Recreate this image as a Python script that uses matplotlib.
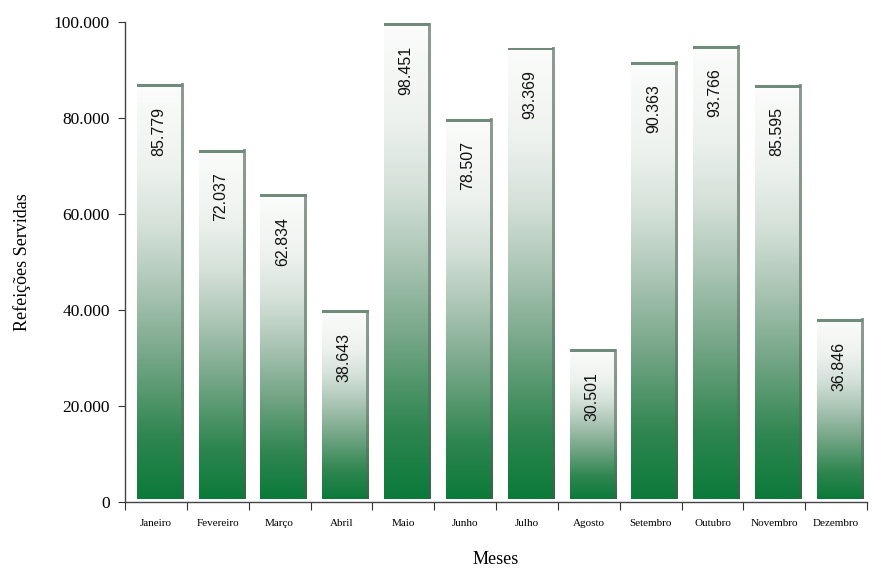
import matplotlib

matplotlib.use("Agg")
import matplotlib.pyplot as plt
import numpy as np
from matplotlib.colors import LinearSegmentedColormap
from matplotlib.ticker import FuncFormatter

meses = ["Janeiro", "Fevereiro", "Março", "Abril", "Maio", "Junho", "Julho",
         "Agosto", "Setembro", "Outubro", "Novembro", "Dezembro"]
refeicoes = [85779, 72037, 62834, 38643, 98451, 78507, 93369,
             30501, 90363, 93766, 85595, 36846]
yticks = [0, 20000, 40000, 60000, 80000, 100000]

SERIF = "Liberation Serif"
SANS = "Liberation Sans"

# Excel-style 3D look: body gradient, top cap, right side face
body_cmap = LinearSegmentedColormap.from_list(
    "body", [(0.0, "#0b7a3a"), (0.15, "#2f8650"), (0.35, "#79a88a"),
             (0.5, "#a9c4b3"), (0.65, "#d3e0d8"), (0.8, "#eef2ef"),
             (1.0, "#fbfcfb")])
side_cmap = LinearSegmentedColormap.from_list(
    "side", [(0.0, "#2a6a42"), (0.5, "#7d9385"), (1.0, "#8f9b94")])
grad = np.linspace(0, 1, 256).reshape(-1, 1)

fig = plt.figure(figsize=(8.86, 5.78), dpi=100)
ax = fig.add_axes([0.1411, 0.1315, 0.9786 - 0.1411, 0.962 - 0.1315])

TOP_PAD = 1300   # visible top face sits a few px above the value
BASE = 600       # bars float slightly above the floor
CAP = 600
x_off, w, side_w = 0.19, 0.71, 0.04

for i, v in enumerate(refeicoes):
    x0 = i + x_off
    top = v + TOP_PAD
    ax.imshow(grad, extent=[x0, x0 + w, BASE, top], aspect="auto",
              cmap=body_cmap, origin="lower", zorder=2, interpolation="bilinear")
    ax.imshow(grad, extent=[x0 + w, x0 + w + side_w, BASE, top], aspect="auto",
              cmap=side_cmap, origin="lower", zorder=2, interpolation="bilinear")
    ax.bar(x0, CAP, bottom=top - CAP, width=w + side_w, align="edge",
           color="#6f8c7a", zorder=3, linewidth=0)
    ax.text(x0 + w / 2, top - 4700, f"{v:,}".replace(",", "."),
            rotation=90, ha="center", va="top", fontsize=11.5,
            family=SANS, color="#111111", zorder=4)

ax.set_xlim(0, 12)
ax.set_ylim(0, 100000)
ax.set_xticks(np.arange(13))
ax.set_xticklabels([])
ax.set_xticks(np.arange(12) + 0.5, minor=True)
ax.set_xticklabels(meses, minor=True, fontsize=8, family=SERIF)
ax.tick_params(axis="x", which="major", direction="out", length=6,
               color="#333333")
ax.tick_params(axis="x", which="minor", length=0, pad=12)
ax.set_yticks(yticks)
ax.yaxis.set_major_formatter(
    FuncFormatter(lambda y, _: f"{int(y):,}".replace(",", ".")))
ax.tick_params(axis="y", direction="out", length=5, color="#333333",
               labelsize=12.5, pad=6)
for lab in ax.get_yticklabels():
    lab.set_family(SERIF)

for s in ("top", "right"):
    ax.spines[s].set_visible(False)
for s in ("left", "bottom"):
    ax.spines[s].set_color("#444444")
    ax.spines[s].set_linewidth(1.0)

ax.set_ylabel("Refeições Servidas", fontsize=13, family=SERIF, labelpad=16)
ax.set_xlabel("Meses", fontsize=13, family=SERIF, labelpad=17)

fig.savefig("out.png", dpi=100, facecolor="white")
